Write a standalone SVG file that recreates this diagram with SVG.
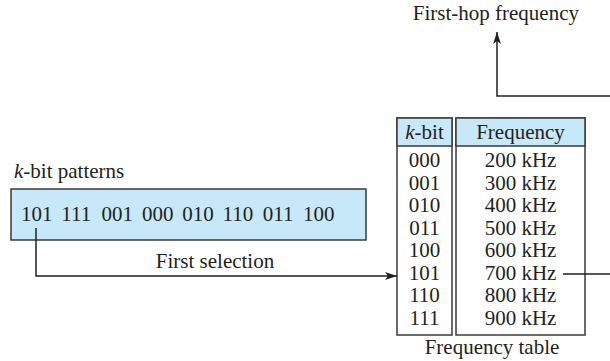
<svg xmlns="http://www.w3.org/2000/svg" width="610" height="361" viewBox="0 0 610 361">
<defs>
<style>
text{font-family:"Liberation Serif","Times New Roman",serif;font-size:21px;fill:#231f20}
.box{fill:#c6e8f8;stroke:#3a3a3a;stroke-width:1.5}
.col{fill:#ffffff;stroke:#3a3a3a;stroke-width:1.5}
.line{fill:none;stroke:#231f20;stroke-width:1.5}
.m{text-anchor:middle}
</style>
<marker id="ah" viewBox="0 0 12 8" refX="12" refY="4" markerWidth="12" markerHeight="8" markerUnits="userSpaceOnUse" orient="auto">
<path d="M0,0 L12,4 L0,8 L3,4 Z" fill="#231f20"/>
</marker>
</defs>
<g id="hop-label"><text x="579" y="20" text-anchor="end">First-hop frequency</text></g>
<g id="patterns">
<text x="14" y="178"><tspan font-style="italic">k</tspan>-bit patterns</text>
<rect class="box" x="11" y="189" width="355" height="51"/>
<text y="221"><tspan x="21">101</tspan><tspan x="61.3">111</tspan><tspan x="101.6">001</tspan><tspan x="141.9">000</tspan><tspan x="182.2">010</tspan><tspan x="222.5">110</tspan><tspan x="262.8">011</tspan><tspan x="303">100</tspan></text>
</g>
<g id="table">
<rect class="col" x="397" y="118" width="55" height="217"/>
<rect class="box" x="397" y="118" width="55" height="28"/>
<rect class="col" x="456" y="118" width="129" height="217"/>
<rect class="box" x="456" y="118" width="129" height="28"/>
<text class="m" x="424.5" y="139"><tspan font-style="italic">k</tspan>-bit</text>
<text class="m" x="520.5" y="139">Frequency</text>
<text class="m" x="424.5" y="167">000</text>
<text class="m" x="424.5" y="189.5">001</text>
<text class="m" x="424.5" y="212">010</text>
<text class="m" x="424.5" y="234.5">011</text>
<text class="m" x="424.5" y="257">100</text>
<text class="m" x="424.5" y="279.5">101</text>
<text class="m" x="424.5" y="302">110</text>
<text class="m" x="424.5" y="324.5">111</text>
<text class="m" x="520.5" y="167">200 kHz</text>
<text class="m" x="520.5" y="189.5">300 kHz</text>
<text class="m" x="520.5" y="212">400 kHz</text>
<text class="m" x="520.5" y="234.5">500 kHz</text>
<text class="m" x="520.5" y="257">600 kHz</text>
<text class="m" x="520.5" y="279.5">700 kHz</text>
<text class="m" x="520.5" y="302">800 kHz</text>
<text class="m" x="520.5" y="324.5">900 kHz</text>
<text class="m" x="492" y="354">Frequency table</text>
</g>
<g id="connectors">
<path class="line" d="M36,228 V276 H397" marker-end="url(#ah)"/>
<text class="m" x="215" y="268">First selection</text>
<path class="line" d="M563,274 H610"/>
<path class="line" d="M610,96 H497 V32" marker-end="url(#ah)"/>
</g>
</svg>
